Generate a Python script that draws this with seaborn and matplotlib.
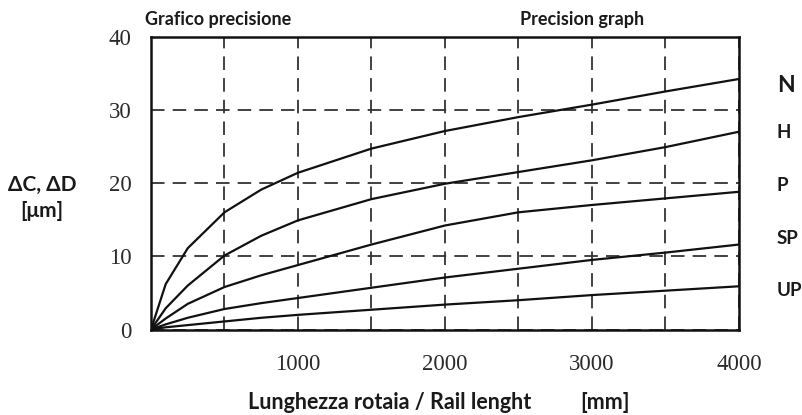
import matplotlib
matplotlib.use("Agg")
import matplotlib.pyplot as plt
import seaborn as sns
import pandas as pd

# ---- data ----
length_mm = [0, 100, 250, 500, 750, 1000, 1500, 2000, 2500, 3000, 3500, 4000]
N  = [0, 6.2, 11.1, 16.0, 19.1, 21.4, 24.7, 27.1, 29.0, 30.7, 32.5, 34.2]
H  = [0, 2.9, 6.0, 10.1, 12.8, 14.9, 17.8, 19.9, 21.5, 23.1, 24.9, 27.0]
P  = [0, 1.5, 3.5, 5.8, 7.4, 8.8, 11.6, 14.2, 16.0, 17.0, 17.9, 18.8]
SP = [0, 0.7, 1.6, 2.8, 3.6, 4.3, 5.7, 7.1, 8.3, 9.5, 10.5, 11.6]
UP = [0, 0.3, 0.6, 1.1, 1.6, 2.0, 2.7, 3.4, 4.0, 4.7, 5.3, 5.9]
classes = ["N", "H", "P", "SP", "UP"]
x_ticks = [0, 500, 1000, 1500, 2000, 2500, 3000, 3500, 4000]
x_tick_labels = ["", "", "1000", "", "2000", "", "3000", "", "4000"]
y_ticks = [0, 10, 20, 30, 40]
y_tick_labels = ["0", "10", "20", "30", "40"]

series = {"N": N, "H": H, "P": P, "SP": SP, "UP": UP}
df = pd.concat(
    [pd.DataFrame({"length": length_mm, "value": v, "cls": k}) for k, v in series.items()],
    ignore_index=True,
)

sns.set_theme(style="white")
plt.rcParams["font.family"] = ["Lato", "DejaVu Sans"]

fig = plt.figure(figsize=(8.03, 4.15), dpi=100)
ax = fig.add_axes([151 / 803, 1 - 329.5 / 415, (739 - 151) / 803, (329.5 - 36.5) / 415])

sns.lineplot(data=df, x="length", y="value", hue="cls", hue_order=classes,
             palette=["#111111"] * 5, linewidth=1.6, legend=False, ax=ax,
             estimator=None, sort=True, zorder=3)

ax.set_xlim(0, 4000)
ax.set_ylim(0, 40)
ax.set_xticks(x_ticks)
ax.set_xticklabels(x_tick_labels, family=["Liberation Serif"], fontsize=16.5, color="#2a2a2a")
ax.set_yticks(y_ticks)
ax.set_yticklabels(y_tick_labels, family=["Liberation Serif"], fontsize=16.5, color="#2a2a2a")
ax.tick_params(axis="x", length=0, pad=18)
ax.tick_params(axis="y", length=0, pad=14)
ax.set_xlabel("")
ax.set_ylabel("")

ax.grid(True, color="#333333", linestyle=(0, (7.5, 4.5)), linewidth=1.3)
for s in ax.spines.values():
    s.set_visible(True)
    s.set_color("#111111")
    s.set_linewidth(1.8)

txt = dict(color="#1a1a1a", fontweight="bold")
fig.text(145 / 803, 1 - 20 / 415, "Grafico precisione", ha="left", va="center", fontsize=13, **txt)
fig.text(582 / 803, 1 - 20 / 415, "Precision graph", ha="center", va="center", fontsize=13, **txt)
fig.text(42 / 803, 1 - 185 / 415, "ΔC, ΔD", ha="center", va="center", fontsize=15, **txt)
fig.text(42 / 803, 1 - 211 / 415, "[μm]", ha="center", va="center", fontsize=15, **txt)
fig.text(248 / 803, 1 - 402 / 415, "Lunghezza rotaia / Rail lenght", ha="left", va="center", fontsize=15.5, **txt)
fig.text(580 / 803, 1 - 402 / 415, "[mm]", ha="left", va="center", fontsize=15.5, **txt)

label_y = [85, 132, 185, 238, 290]
label_size = [16.5, 13.5, 13.5, 13.5, 13.5]
for name, yy, fs in zip(classes, label_y, label_size):
    fig.text(777 / 803, 1 - yy / 415, name, ha="left", va="center", fontsize=fs, **txt)

fig.savefig("out.png", dpi=100)
